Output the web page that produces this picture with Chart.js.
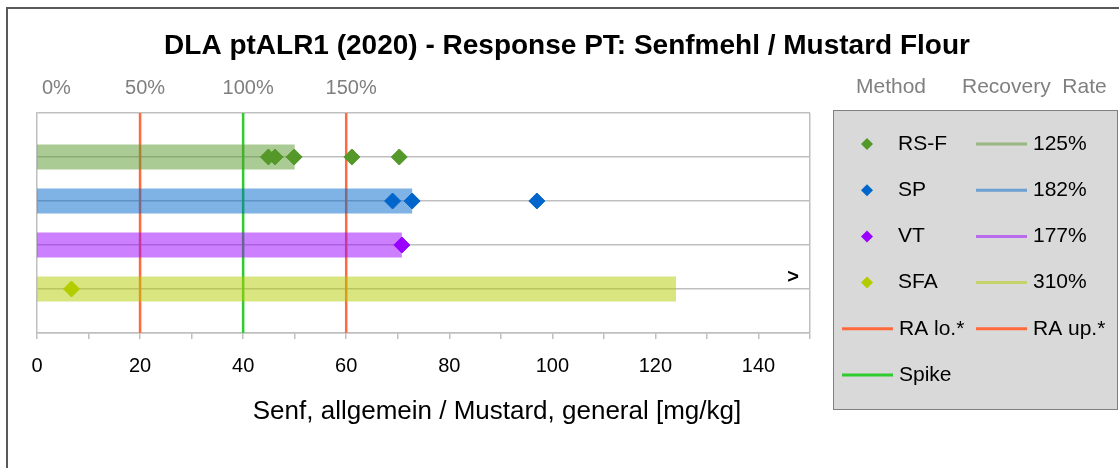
<!DOCTYPE html>
<html>
<head>
<meta charset="utf-8">
<script src="https://cdn.jsdelivr.net/npm/chart.js@4"></script>
<style>
  html, body { margin: 0; padding: 0; background: #fff; }
  #wrap { position: relative; width: 1119px; height: 468px; }
</style>
</head>
<body>
<div id="wrap"><canvas id="chart" width="1119" height="468"></canvas></div>
<script>
// Daten
const chartTitle = 'DLA ptALR1 (2020) - Response PT: Senfmehl / Mustard Flour';
const axisTitle = 'Senf, allgemein / Mustard, general [mg/kg]';
const methods = ['RS-F', 'SP', 'VT', 'SFA'];
const recoveryRate = [125, 182, 177, 310];           // %
const results = [
  [44.9, 46.2, 49.9, 61.1, 70.3],
  [69.0, 72.8, 97.0],
  [70.8],
  [6.7]
];
const outOfRange = [null, null, null, '>'];
const spike = 40;
const raLow = 20;
const raUp = 60;
const pctTicks = [0, 50, 100, 150];
const xMax = 150;

const pointColors = ['#55982A', '#0066CC', '#9900FF', '#B3CC00'];
const bandColors = ['rgba(85,152,42,0.5)', 'rgba(0,102,204,0.5)', 'rgba(153,0,255,0.5)', 'rgba(179,204,0,0.5)'];
const raColor = '#FF6A3D';
const spikeColor = '#2ECC2E';
const gridColor = '#BFBFBF';
const FONT = "'Liberation Sans', Arial, sans-serif";

// Datensaetze
const datasets = [];
methods.forEach((m, i) => {
  datasets.push({
    type: 'scatter', label: m, order: 0,
    data: results[i].map(v => ({ x: v, y: i + 1 })),
    pointStyle: 'rectRot', pointRadius: 8, pointHoverRadius: 8,
    backgroundColor: pointColors[i], borderColor: pointColors[i], borderWidth: 1
  });
  datasets.push({
    type: 'line', label: m + ' rate', order: 1,
    data: [{ x: 0, y: i + 1 }, { x: recoveryRate[i] / 100 * spike, y: i + 1 }],
    borderColor: bandColors[i], borderWidth: 25, borderCapStyle: 'butt',
    pointRadius: 0, fill: false
  });
});
[[raLow, raColor, 'RA lo.*'], [raUp, raColor, 'RA up.*'], [spike, spikeColor, 'Spike']].forEach(([v, c, l]) => {
  datasets.push({
    type: 'line', label: l, order: 2,
    data: [{ x: v, y: 0 }, { x: v, y: 5 }],
    borderColor: c, borderWidth: 2.5, pointRadius: 0, fill: false
  });
});

// Rahmen, Titel, Legende
const decor = {
  id: 'decor',
  afterDraw(chart) {
    const ctx = chart.ctx;
    const xs = chart.scales.x, ys = chart.scales.y;
    ctx.save();
    // Rahmen
    ctx.strokeStyle = '#595959'; ctx.lineWidth = 2;
    ctx.strokeRect(7, 8, 1200, 600);
    // Titel
    ctx.fillStyle = '#000';
    ctx.font = `bold 28px ${FONT}`;
    ctx.textAlign = 'center'; ctx.textBaseline = 'middle';
    ctx.fillText(chartTitle, 567, 46);
    // Achsentitel
    ctx.font = `26px ${FONT}`;
    ctx.fillText(axisTitle, 497, 412);
    // Ueberlauf-Zeichen
    ctx.font = `bold 20px ${FONT}`;
    outOfRange.forEach((t, i) => {
      if (t) ctx.fillText(t, xs.getPixelForValue(xMax) - 17, ys.getPixelForValue(i + 1) - 12);
    });
    // Legende
    ctx.fillStyle = '#D9D9D9';
    ctx.fillRect(833.5, 110.5, 284, 299);
    ctx.strokeStyle = '#7F7F7F'; ctx.lineWidth = 1;
    ctx.strokeRect(833.5, 110.5, 284, 299);
    ctx.font = `21px ${FONT}`;
    ctx.textAlign = 'left';
    ctx.fillStyle = '#808080';
    ctx.fillText('Method', 856, 87);
    ctx.fillText('Recovery  Rate', 962, 87);
    const rowY = i => 144 + i * 46.2;
    methods.forEach((m, i) => {
      const y = rowY(i);
      ctx.fillStyle = pointColors[i];
      ctx.beginPath();
      ctx.moveTo(867, y - 6); ctx.lineTo(873, y); ctx.lineTo(867, y + 6); ctx.lineTo(861, y);
      ctx.closePath(); ctx.fill();
      ctx.fillStyle = '#000';
      ctx.fillText(m, 898, y);
      ctx.strokeStyle = bandColors[i]; ctx.lineWidth = 3;
      ctx.beginPath(); ctx.moveTo(976, y); ctx.lineTo(1027, y); ctx.stroke();
      ctx.fillText(recoveryRate[i] + '%', 1033, y);
    });
    const lineItem = (x, y, c, label) => {
      ctx.strokeStyle = c; ctx.lineWidth = 3;
      ctx.beginPath(); ctx.moveTo(x, y); ctx.lineTo(x + 51, y); ctx.stroke();
      ctx.fillStyle = '#000';
      ctx.fillText(label, x + 57, y);
    };
    lineItem(842, rowY(4), raColor, 'RA lo.*');
    lineItem(976, rowY(4), raColor, 'RA up.*');
    lineItem(842, rowY(5), spikeColor, 'Spike');
    ctx.restore();
  }
};

new Chart(document.getElementById('chart'), {
  type: 'scatter',
  data: { datasets },
  plugins: [decor],
  options: {
    responsive: false,
    animation: false,
    events: [],
    layout: { padding: { left: 37, right: 309, top: 0, bottom: 0 } },
    plugins: { legend: { display: false }, title: { display: false }, tooltip: { enabled: false } },
    scales: {
      x: {
        type: 'linear', position: 'bottom', min: 0, max: xMax,
        afterFit: s => { s.height = 135; },
        border: { color: gridColor, width: 1.5 },
        grid: {
          drawTicks: true, tickLength: 6, tickColor: gridColor, tickWidth: 1.5,
          color: c => (c.tick && c.tick.value === xMax ? gridColor : 'rgba(0,0,0,0)'),
          lineWidth: 1.5
        },
        ticks: {
          stepSize: 10, autoSkip: false, maxRotation: 0, padding: 15,
          color: '#000', font: { family: FONT, size: 20 },
          callback: v => (v % 20 === 0 ? v : '')
        }
      },
      x2: {
        type: 'linear', position: 'top', min: 0, max: xMax,
        afterFit: s => { s.height = 113; },
        // Prozent-Ticks plus leerer Tick am Achsenende
        afterBuildTicks: s => {
          s.ticks = pctTicks.map(p => ({ value: p / 100 * spike })).concat([{ value: xMax }]);
        },
        border: { display: false },
        grid: { display: false, drawTicks: false },
        ticks: {
          autoSkip: false, maxRotation: 0, padding: 13, align: 'inner', labelOffset: 5,
          color: '#7F7F7F', font: { family: FONT, size: 20 },
          callback: v => (v === xMax ? '' : Math.round(v / spike * 100) + '%')
        }
      },
      y: {
        type: 'linear', min: 0, max: 5, reverse: true,
        afterFit: s => { s.width = 0; },
        border: { color: gridColor, width: 1.5 },
        grid: { color: gridColor, lineWidth: 1.5, drawTicks: false },
        ticks: { stepSize: 1, display: false }
      }
    }
  }
});
</script>
</body>
</html>
